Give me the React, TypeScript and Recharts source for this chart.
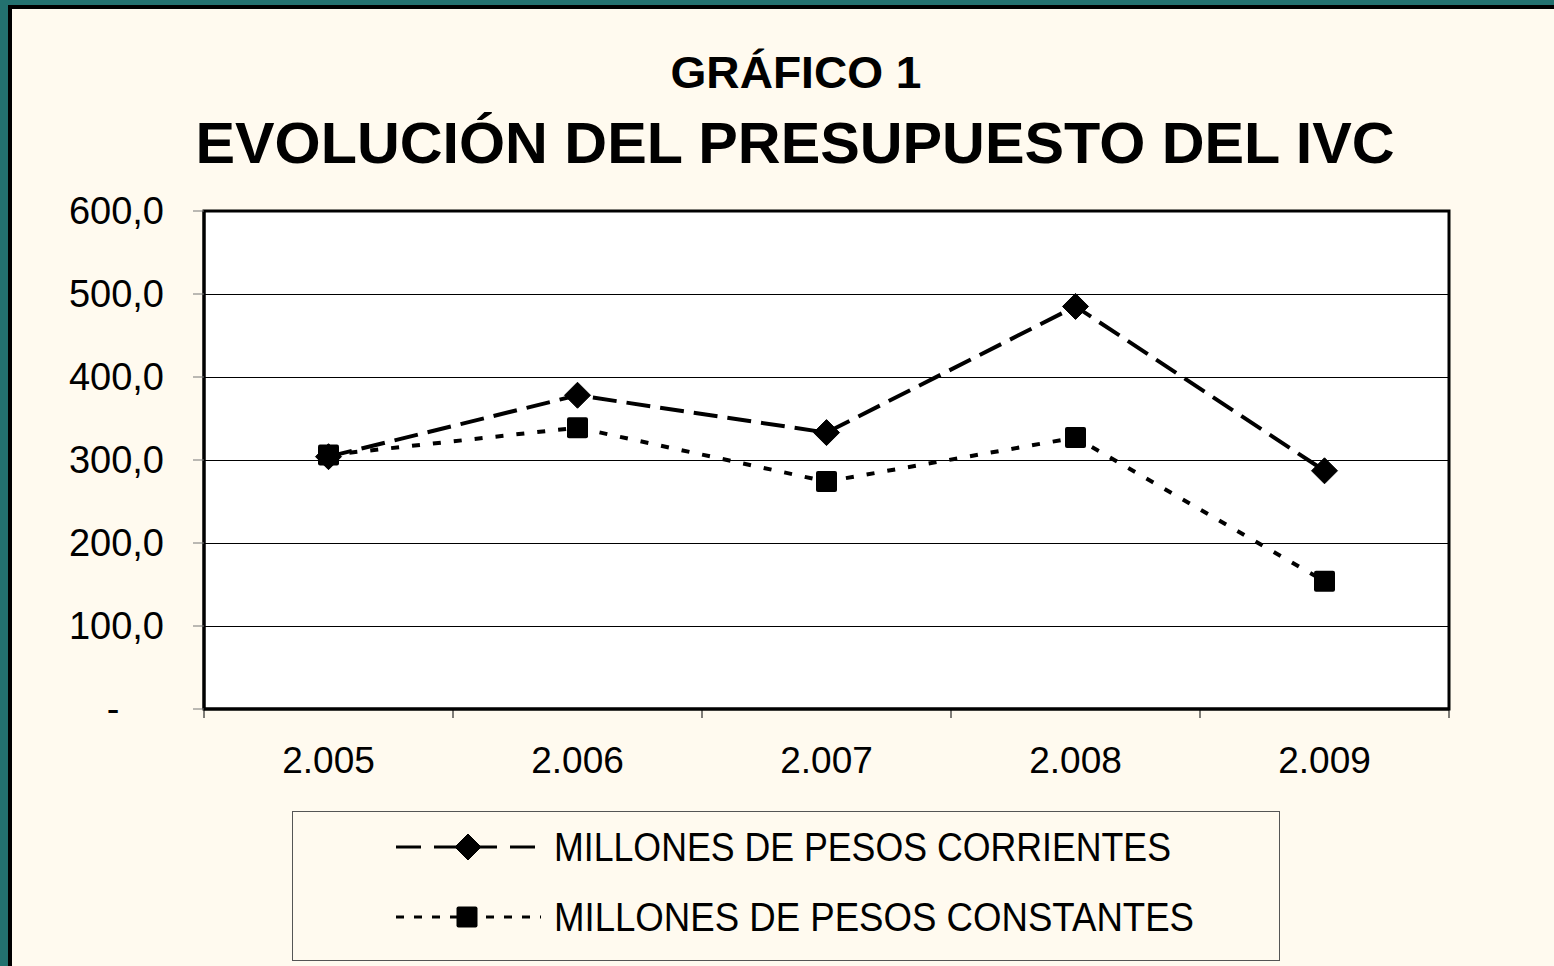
import { LineChart, Line, XAxis, YAxis, CartesianGrid, ReferenceArea } from 'recharts'

const years = ['2.005', '2.006', '2.007', '2.008', '2.009']
const corrientes = [304, 378, 333, 485, 287]
const constantes = [306, 339, 274, 327, 154]
const yTicks = [0, 100, 200, 300, 400, 500, 600]
const seriesNames = ['MILLONES DE PESOS CORRIENTES', 'MILLONES DE PESOS CONSTANTES']

const data = years.map((year, i) => ({
  x: i + 0.5,
  year,
  corrientes: corrientes[i],
  constantes: constantes[i],
}))

const FONT = 'Arial, "Liberation Sans", Helvetica, sans-serif'
const TEAL = '#23716F'
const CREAM = '#FFFAEF'

const Diamond = (props: any) => {
  const { cx, cy } = props
  if (cx == null || cy == null) return null
  const r = 13
  return (
    <polygon
      points={`${cx},${cy - r} ${cx + r},${cy} ${cx},${cy + r} ${cx - r},${cy}`}
      fill='#000'
      stroke='#000'
      strokeWidth={1}
      strokeLinejoin='round'
    />
  )
}

const Square = (props: any) => {
  const { cx, cy } = props
  if (cx == null || cy == null) return null
  const s = 21
  return <rect x={cx - s / 2} y={cy - s / 2} width={s} height={s} rx={2} fill='#000' />
}

const GridLine = (props: any) => {
  const { x1, x2, y1, y2 } = props
  return <line x1={x1} x2={x2} y1={y1} y2={y2} stroke='#000' strokeWidth={1} shapeRendering='crispEdges' />
}

const XTick = (props: any) => {
  const { x, y, payload, index } = props
  const i = Math.round(payload.value)
  if (i >= years.length) return null
  const band = 1245 / years.length
  return (
    <text
      key={index}
      x={x + band / 2}
      y={y}
      dy={53}
      textAnchor='middle'
      fontFamily={FONT}
      fontSize={37}
      fill='#000'
    >
      {years[i]}
    </text>
  )
}

const YTick = (props: any) => {
  const { x, y, payload } = props
  const v = payload.value
  const label = v === 0 ? '-' : v.toFixed(1).replace('.', ',')
  return (
    <text
      x={v === 0 ? x - 51 : x}
      y={y}
      dy={13}
      textAnchor={v === 0 ? 'middle' : 'end'}
      fontFamily={FONT}
      fontSize={38}
      fill='#000'
    >
      {label}
    </text>
  )
}

export default function App() {
  return (
    <div style={{ position: 'absolute', left: 0, top: 0, width: 1554, height: 966, background: TEAL, overflow: 'hidden' }}>
      <div
        style={{
          position: 'absolute',
          left: 8,
          top: 5,
          width: 1546,
          height: 961,
          background: CREAM,
          borderTop: '4px solid #000',
          borderLeft: '4px solid #000',
          boxSizing: 'border-box',
        }}
      />
      <svg width={1554} height={200} style={{ position: 'absolute', left: 0, top: 0 }}>
        <text x={796} y={88} textAnchor='middle' fontFamily={FONT} fontWeight='bold' fontSize={44} textLength={251} lengthAdjust='spacingAndGlyphs'>
          GRÁFICO 1
        </text>
        <text x={795} y={163} textAnchor='middle' fontFamily={FONT} fontWeight='bold' fontSize={58} textLength={1199} lengthAdjust='spacingAndGlyphs'>
          EVOLUCIÓN DEL PRESUPUESTO DEL IVC
        </text>
      </svg>
      <div style={{ position: 'absolute', left: 0, top: 0 }}>
        <LineChart width={1554} height={966} data={data} margin={{ top: 211, right: 105, left: 124, bottom: 197 }}>
          <CartesianGrid horizontal={<GridLine />} vertical={false} fill='#fff' />
          <XAxis
            dataKey='x'
            type='number'
            domain={[0, 5]}
            ticks={[0, 1, 2, 3, 4, 5]}
            height={60}
            tickSize={9}
            tickLine={{ stroke: '#000', strokeWidth: 1 }}
            axisLine={{ stroke: '#000', strokeWidth: 3 }}
            tick={<XTick />}
            interval={0}
          />
          <YAxis
            domain={[0, 600]}
            ticks={yTicks}
            width={80}
            tickSize={11}
            tickMargin={29}
            tickLine={{ stroke: '#777', strokeWidth: 1 }}
            axisLine={{ stroke: '#000', strokeWidth: 3 }}
            tick={<YTick />}
            interval={0}
          />
          <ReferenceArea x1={0} x2={5} y1={0} y2={600} fill='none' fillOpacity={0} stroke='#000' strokeWidth={3} ifOverflow='visible' />
          <Line
            dataKey='constantes'
            name={seriesNames[1]}
            stroke='#000'
            strokeWidth={4}
            strokeDasharray='8 13'
            dot={<Square />}
            isAnimationActive={false}
          />
          <Line
            dataKey='corrientes'
            name={seriesNames[0]}
            stroke='#000'
            strokeWidth={4}
            strokeDasharray='24 10'
            dot={<Diamond />}
            isAnimationActive={false}
          />
        </LineChart>
      </div>
      <div
        style={{
          position: 'absolute',
          left: 292,
          top: 811,
          width: 988,
          height: 150,
          background: CREAM,
          border: '1px solid #555',
          boxSizing: 'border-box',
        }}
      >
        <svg width={986} height={148} style={{ display: 'block' }}>
          <g>
            <line x1={103} x2={248} y1={35} y2={35} stroke='#000' strokeWidth={3} strokeDasharray='25 13' />
            <Diamond cx={175} cy={35} />
            <text x={261} y={49} fontFamily={FONT} fontSize={40} textLength={617} lengthAdjust='spacingAndGlyphs'>
              {seriesNames[0]}
            </text>
          </g>
          <g>
            <line x1={103} x2={248} y1={105} y2={105} stroke='#000' strokeWidth={3} strokeDasharray='8 10' />
            <Square cx={174} cy={105} />
            <text x={261} y={119} fontFamily={FONT} fontSize={40} textLength={640} lengthAdjust='spacingAndGlyphs'>
              {seriesNames[1]}
            </text>
          </g>
        </svg>
      </div>
    </div>
  )
}
